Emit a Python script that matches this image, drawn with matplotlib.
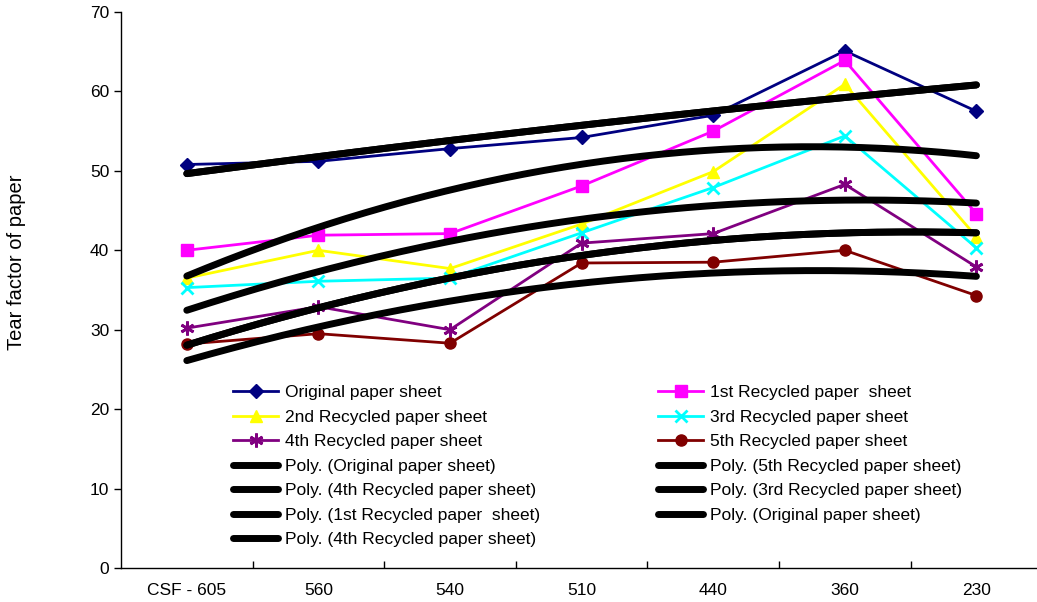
import numpy as np
import matplotlib
matplotlib.use("Agg")
import matplotlib.pyplot as plt

plt.rcParams['font.family'] = ['Liberation Sans', 'DejaVu Sans']

# Freeness stages (CSF) and tear factor for each paper sheet
categories = ["CSF - 605", "560", "540", "510", "440", "360", "230"]
original = [50.8, 51.2, 52.8, 54.2, 57.0, 65.1, 57.5]
recycled_1 = [40.0, 41.9, 42.1, 48.1, 55.0, 63.9, 44.6]
recycled_2 = [36.5, 40.0, 37.7, 43.3, 49.9, 60.9, 41.7]
recycled_3 = [35.3, 36.1, 36.5, 42.2, 47.9, 54.4, 40.3]
recycled_4 = [30.2, 32.9, 30.0, 40.9, 42.1, 48.3, 37.9]
recycled_5 = [28.2, 29.5, 28.3, 38.4, 38.5, 40.0, 34.3]

names = ["Original paper sheet", "1st Recycled paper  sheet",
         "2nd Recycled paper sheet", "3rd Recycled paper sheet",
         "4th Recycled paper sheet", "5th Recycled paper sheet"]
series = [original, recycled_1, recycled_2, recycled_3, recycled_4, recycled_5]

styles = [
    dict(color="#000080", marker="D", markersize=7),
    dict(color="#FF00FF", marker="s", markersize=8),
    dict(color="#FFFF00", marker="^", markersize=9),
    dict(color="#00FFFF", marker="x", markersize=9, markeredgewidth=2),
    dict(color="#800080", marker=(6, 2, 0), markersize=10, markeredgewidth=2),
    dict(color="#800000", marker="o", markersize=8),
]

# Second-order polynomial trendlines, listed by the series they fit
trend_order = [0, 4, 1, 4, 5, 3, 0]

FS = 12.5

fig = plt.figure(figsize=(10.37, 6.02), dpi=100)
ax = fig.add_axes([121 / 1037, 34 / 602, 1 - 121 / 1037, (568 - 12) / 602])

x = np.arange(len(categories))
data_handles = []
for vals, name, st in zip(series, names, styles):
    h, = ax.plot(x, vals, linewidth=2.0, label=name, zorder=3, **st)
    data_handles.append(h)

xs = np.linspace(0, len(categories) - 1, 200)
trend_handles = []
for idx in trend_order:
    coef = np.polyfit(x + 1, series[idx], 2)
    h, = ax.plot(xs, np.polyval(coef, xs + 1), color="black", linewidth=5,
                 solid_capstyle="round", zorder=4,
                 label="Poly. (" + names[idx] + ")")
    trend_handles.append(h)

ax.set_xlim(-0.5, -0.5 + 916 / 131.6)
ax.set_ylim(0, 70)
ax.set_yticks(range(0, 71, 10))
ax.set_xticks(x)
ax.set_xticklabels(categories)
ax.set_xticks(np.arange(0.5, len(categories) - 0.5, 1), minor=True)
ax.tick_params(axis="x", which="major", length=0, pad=11, labelsize=FS)
ax.tick_params(axis="x", which="minor", direction="in", length=5, width=1)
ax.tick_params(axis="y", direction="out", length=5, width=1, pad=3.5, labelsize=FS)
for s in ("top", "right"):
    ax.spines[s].set_visible(False)
for s in ("left", "bottom"):
    ax.spines[s].set_linewidth(1)

fig.text(17 / 1037, 1 - 262 / 602, "Tear factor of paper", rotation=90,
         ha="center", va="center", fontsize=14.5)

# Legend laid out row by row in two columns
left_col = [data_handles[0], data_handles[2], data_handles[4],
            trend_handles[0], trend_handles[1], trend_handles[2], trend_handles[3]]
right_col = [data_handles[1], data_handles[3], data_handles[5],
             trend_handles[4], trend_handles[5], trend_handles[6]]
handles = left_col + right_col
leg = ax.legend(handles=handles, labels=[h.get_label() for h in handles],
                ncol=2, frameon=False, fontsize=FS, handlelength=2.6,
                handletextpad=0.4, labelspacing=0.54, columnspacing=6.8,
                borderpad=0, borderaxespad=0, loc="upper left",
                bbox_to_anchor=(233 / 1037, 1 - 385 / 602),
                bbox_transform=fig.transFigure)

fig.savefig("out.png", dpi=100)
